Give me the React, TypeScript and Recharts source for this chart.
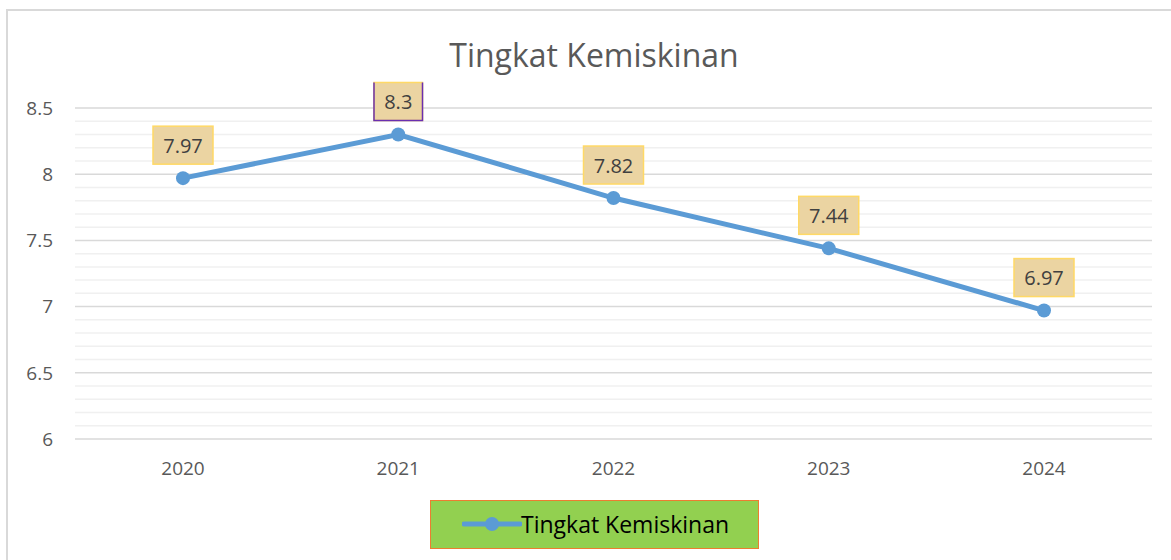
import { CartesianGrid, LabelList, Line, LineChart, ReferenceLine, XAxis, YAxis } from "recharts";

const years = ["2020", "2021", "2022", "2023", "2024"];
const rates = [7.97, 8.3, 7.82, 7.44, 6.97];
const yTicks = [6, 6.5, 7, 7.5, 8, 8.5];
const minorTicks = [
  6.1, 6.2, 6.3, 6.4, 6.6, 6.7, 6.8, 6.9, 7.1, 7.2, 7.3, 7.4,
  7.6, 7.7, 7.8, 7.9, 8.1, 8.2, 8.3, 8.4,
];

const data = years.map((year, i) => ({ year, rate: rates[i] }));

const FONT = "'Open Sans', sans-serif";
const LINE = "#5B9BD5";

function ValueBadge(props: any) {
  const { x, y, value, index } = props;
  const text = String(value);
  const w = text.length * 11.5 + 14;
  const h = 38;
  const cx = x;
  const cy = y - 33;
  const left = cx - w / 2;
  const top = cy - h / 2;
  return (
    <g>
      <rect x={left} y={top} width={w} height={h} fill="#EBD4A2" stroke="#FFD966" strokeWidth={1.5} />
      {index === 1 && (
        <polyline
          points={`${left},${top} ${left},${top + h} ${left + w},${top + h} ${left + w},${top}`}
          fill="none"
          stroke="#6A2FB0"
          strokeWidth={1.5}
        />
      )}
      <text
        x={cx}
        y={cy}
        textAnchor="middle"
        dominantBaseline="central"
        fontFamily={FONT}
        fontSize={20}
        fill="#404040"
      >
        {text}
      </text>
    </g>
  );
}

export default function App() {
  return (
    <div style={{ position: "absolute", left: 0, top: 0, width: 1171, height: 560, background: "#fff", overflow: "hidden" }}>
      <div
        style={{
          position: "absolute",
          left: 6,
          top: 9,
          width: 1200,
          height: 600,
          borderLeft: "2px solid #D9D9D9",
          borderTop: "2px solid #D9D9D9",
        }}
      />
      <div
        style={{
          position: "absolute",
          left: 0,
          width: 1171,
          top: 33,
          textAlign: "center",
          fontFamily: FONT,
          fontSize: 32,
          color: "#595959",
          lineHeight: "44px",
          paddingLeft: 17,
          boxSizing: "border-box",
        }}
      >
        Tingkat Kemiskinan
      </div>
      <div style={{ position: "absolute", left: 0, top: 0 }}>
        <LineChart width={1171} height={560} data={data} margin={{ top: 108, right: 19, bottom: 0, left: 0 }}>
          {minorTicks.map((v) => (
            <ReferenceLine key={v} y={v} stroke="#F0F0F0" strokeWidth={1.5} ifOverflow="extendDomain" />
          ))}
          <CartesianGrid vertical={false} stroke="#D9D9D9" strokeWidth={1.5} />
          <XAxis
            dataKey="year"
            axisLine={false}
            tickLine={false}
            tickSize={0}
            tickMargin={23}
            height={121}
            padding={{ left: 108, right: 108 }}
            tick={{ fontFamily: FONT, fontSize: 19, fill: "#595959" }}
          />
          <YAxis
            domain={[6, 8.5]}
            ticks={yTicks}
            axisLine={false}
            tickLine={false}
            tickSize={0}
            tickMargin={22}
            width={75}
            tick={{ fontFamily: FONT, fontSize: 19, fill: "#595959" }}
          />
          <Line
            type="linear"
            dataKey="rate"
            stroke={LINE}
            strokeWidth={5}
            dot={{ r: 7, fill: LINE, stroke: LINE, strokeWidth: 0 }}
            isAnimationActive={false}
          >
            <LabelList dataKey="rate" content={<ValueBadge />} />
          </Line>
        </LineChart>
      </div>
      <div
        style={{
          position: "absolute",
          left: 430,
          top: 500,
          width: 329,
          height: 49,
          background: "#92D050",
          border: "1.5px solid #ED7D31",
          boxSizing: "border-box",
        }}
      >
        <svg width={60} height={20} style={{ position: "absolute", left: 31, top: 13 }}>
          <line x1={2} y1={10} x2={58} y2={10} stroke={LINE} strokeWidth={5} strokeLinecap="round" />
          <circle cx={30} cy={10} r={7} fill={LINE} />
        </svg>
        <div
          style={{
            position: "absolute",
            left: 90,
            top: 0,
            lineHeight: "46px",
            fontFamily: FONT,
            fontSize: 23,
            color: "#000",
          }}
        >
          Tingkat Kemiskinan
        </div>
      </div>
    </div>
  );
}
